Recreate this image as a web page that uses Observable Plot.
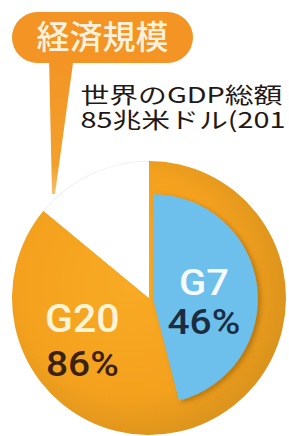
<!DOCTYPE html>
<html>
<head>
<meta charset="utf-8">
<script src="https://cdn.jsdelivr.net/npm/d3@7"></script>
<script src="https://cdn.jsdelivr.net/npm/@observablehq/plot@0.6"></script>
<style>
  body { margin: 0; background: #ffffff; }
  #chart { position: relative; width: 289px; height: 436px; overflow: hidden; }
</style>
</head>
<body>
<div id="chart"></div>
<script>
// ---- data ----
const groups = ["G20", "その他"];
const groupShares = [86, 14];          // % of world GDP
const innerGroup = "G7";
const innerShare = 46;                 // % of world GDP
const titleText = "経済規模";
const subtitleLines = ["世界のGDP総額", "85兆米ドル(201"];
const labelNames = ["G20", "G7"];
const labelValues = ["86%", "46%"];

// ---- layout helpers ----
const W = 289, H = 436;
const TAU = 2 * Math.PI;
const pieArcs = d3.pie().sort(null).value(d => d)(groupShares);
const innerEnd = TAU * innerShare / 100;

// label anchors (in pie units, angle clockwise from 12 o'clock)
const g20Mid = (innerEnd + pieArcs[0].endAngle) / 2;   // visible part of G20
const g7Mid = innerEnd / 2;
const labelRows = [
  {name: labelNames[0], value: labelValues[0], a: g20Mid, rho: 0.58,
   nameFill: "#FFF5D6", valueFill: "#3A2211", nameDy: -21, valueDy: 23, nameSize: 38, valueSize: 36},
  {name: labelNames[1], value: labelValues[1], a: g7Mid, rho: 0.40,
   nameFill: "#F6FCFF", valueFill: "#1C2D42", nameDy: -8, valueDy: 31, nameSize: 37, valueSize: 36}
].map(d => ({...d, x: d.rho * Math.sin(d.a), y: d.rho * Math.cos(d.a)}));

function findScales(args) {
  return args.find(a => a && !Array.isArray(a) && typeof a === "object" &&
    typeof a.x === "function" && typeof a.y === "function");
}

function pieMark(...args) {
  const s = findScales(args);
  const cx = s.x(0), cy = s.y(0), r = Math.abs(s.x(1) - s.x(0));
  const g = d3.create("svg:g");
  const defs = g.append("defs");
  const og = defs.append("radialGradient").attr("id", "orangeGrad")
    .attr("gradientUnits", "userSpaceOnUse")
    .attr("cx", -0.15 * r).attr("cy", -0.1 * r).attr("r", 1.15 * r);
  og.append("stop").attr("offset", "0%").attr("stop-color", "#F8AA24");
  og.append("stop").attr("offset", "70%").attr("stop-color", "#F4A11E");
  og.append("stop").attr("offset", "100%").attr("stop-color", "#DC941C");
  const f = defs.append("filter").attr("id", "blueShadow")
    .attr("x", "-20%").attr("y", "-20%").attr("width", "140%").attr("height", "140%");
  f.append("feDropShadow").attr("dx", 3).attr("dy", 2).attr("stdDeviation", 2.5)
    .attr("flood-color", "#8a5a00").attr("flood-opacity", 0.55);

  const arc = d3.arc();
  const fills = ["url(#orangeGrad)", "#FFFFFF"];
  const pg = g.append("g").attr("transform", `translate(${cx},${cy})`);
  pg.selectAll("path").data(pieArcs).join("path")
    .attr("d", d => arc({innerRadius: 0, outerRadius: r, startAngle: d.startAngle, endAngle: d.endAngle}))
    .attr("fill", (d, i) => fills[i]);
  // faint rim around white slice
  pg.append("path")
    .attr("d", arc({innerRadius: r - 0.5, outerRadius: r, startAngle: pieArcs[1].startAngle, endAngle: pieArcs[1].endAngle}))
    .attr("fill", "#e4e4e4");
  // G7 inner sector
  g.append("path")
    .attr("transform", `translate(${cx + 4},${cy + 1})`)
    .attr("d", arc({innerRadius: 0, outerRadius: 0.765 * r, startAngle: 0, endAngle: innerEnd}))
    .attr("fill", "#6DC0EC")
    .attr("filter", "url(#blueShadow)");
  return g.node();
}

function bubbleMark() {
  const g = d3.create("svg:g");
  const defs = g.append("defs");
  const tg = defs.append("linearGradient").attr("id", "tailGrad")
    .attr("x1", 0).attr("y1", 0).attr("x2", 0).attr("y2", 1);
  tg.append("stop").attr("offset", "0%").attr("stop-color", "#F39424");
  tg.append("stop").attr("offset", "80%").attr("stop-color", "#F2A02C");
  tg.append("stop").attr("offset", "100%").attr("stop-color", "#F6C070");
  g.append("path").attr("d", "M49,56 L74,56 L55,194 L52,194 Z").attr("fill", "url(#tailGrad)");
  g.append("rect").attr("x", 12).attr("y", 12).attr("width", 181).attr("height", 51)
    .attr("rx", 25.5).attr("fill", "#F39424");
  return g.node();
}

const latin = "Roboto, 'Liberation Sans', sans-serif";
const jp = "'Noto Sans CJK JP', 'Noto Sans', sans-serif";

// place each text at its own anchor with offset and horizontal stretch
function placeTexts(getPos, sx) {
  return (index, scales, values, dims, ctx, next) => {
    const el = next(index, scales, values, dims, ctx);
    d3.select(el).selectAll("text").each(function(_, k) {
      const i = index[k];
      const p = getPos(i, values);
      d3.select(this)
        .attr("transform", `translate(${p.x},${p.y}) scale(${sx},1)`);
      if (p.size) d3.select(this).attr("font-size", p.size);
    });
    return el;
  };
}

const plot = Plot.plot({
  width: W,
  height: H,
  margin: 0,
  style: {background: "transparent", overflow: "hidden"},
  x: {domain: [-1, 1], range: [12, 286], axis: null},
  y: {domain: [-1, 1], range: [435, 161], axis: null},
  marks: [
    pieMark,
    bubbleMark,
    Plot.text([titleText], {frameAnchor: "top-left", dx: 102, dy: 38, text: d => d,
      textAnchor: "middle", lineAnchor: "middle", fontSize: 33, fontWeight: 500,
      fontFamily: jp, fill: "#FDF1DC"}),
    Plot.text(subtitleLines, {frameAnchor: "top-left", text: d => d,
      textAnchor: "start", lineAnchor: "top", fontSize: 22,
      fontFamily: jp, fill: "#231815",
      render: placeTexts(i => ({x: 80, y: 87 + i * 25}), 1.31)}),
    Plot.text(labelRows, {x: "x", y: "y", text: "name", fill: "nameFill",
      fontSize: 37, fontWeight: 500, fontFamily: latin,
      render: placeTexts((i, v) => ({x: v.x[i], y: v.y[i] + labelRows[i].nameDy, size: labelRows[i].nameSize}), 1.08)}),
    Plot.text(labelRows, {x: "x", y: "y", text: "value", fill: "valueFill",
      fontSize: 36, fontWeight: 500, fontFamily: latin,
      render: placeTexts((i, v) => ({x: v.x[i], y: v.y[i] + labelRows[i].valueDy, size: labelRows[i].valueSize}), 1.08)})
  ]
});
document.getElementById("chart").appendChild(plot);
</script>
</body>
</html>
